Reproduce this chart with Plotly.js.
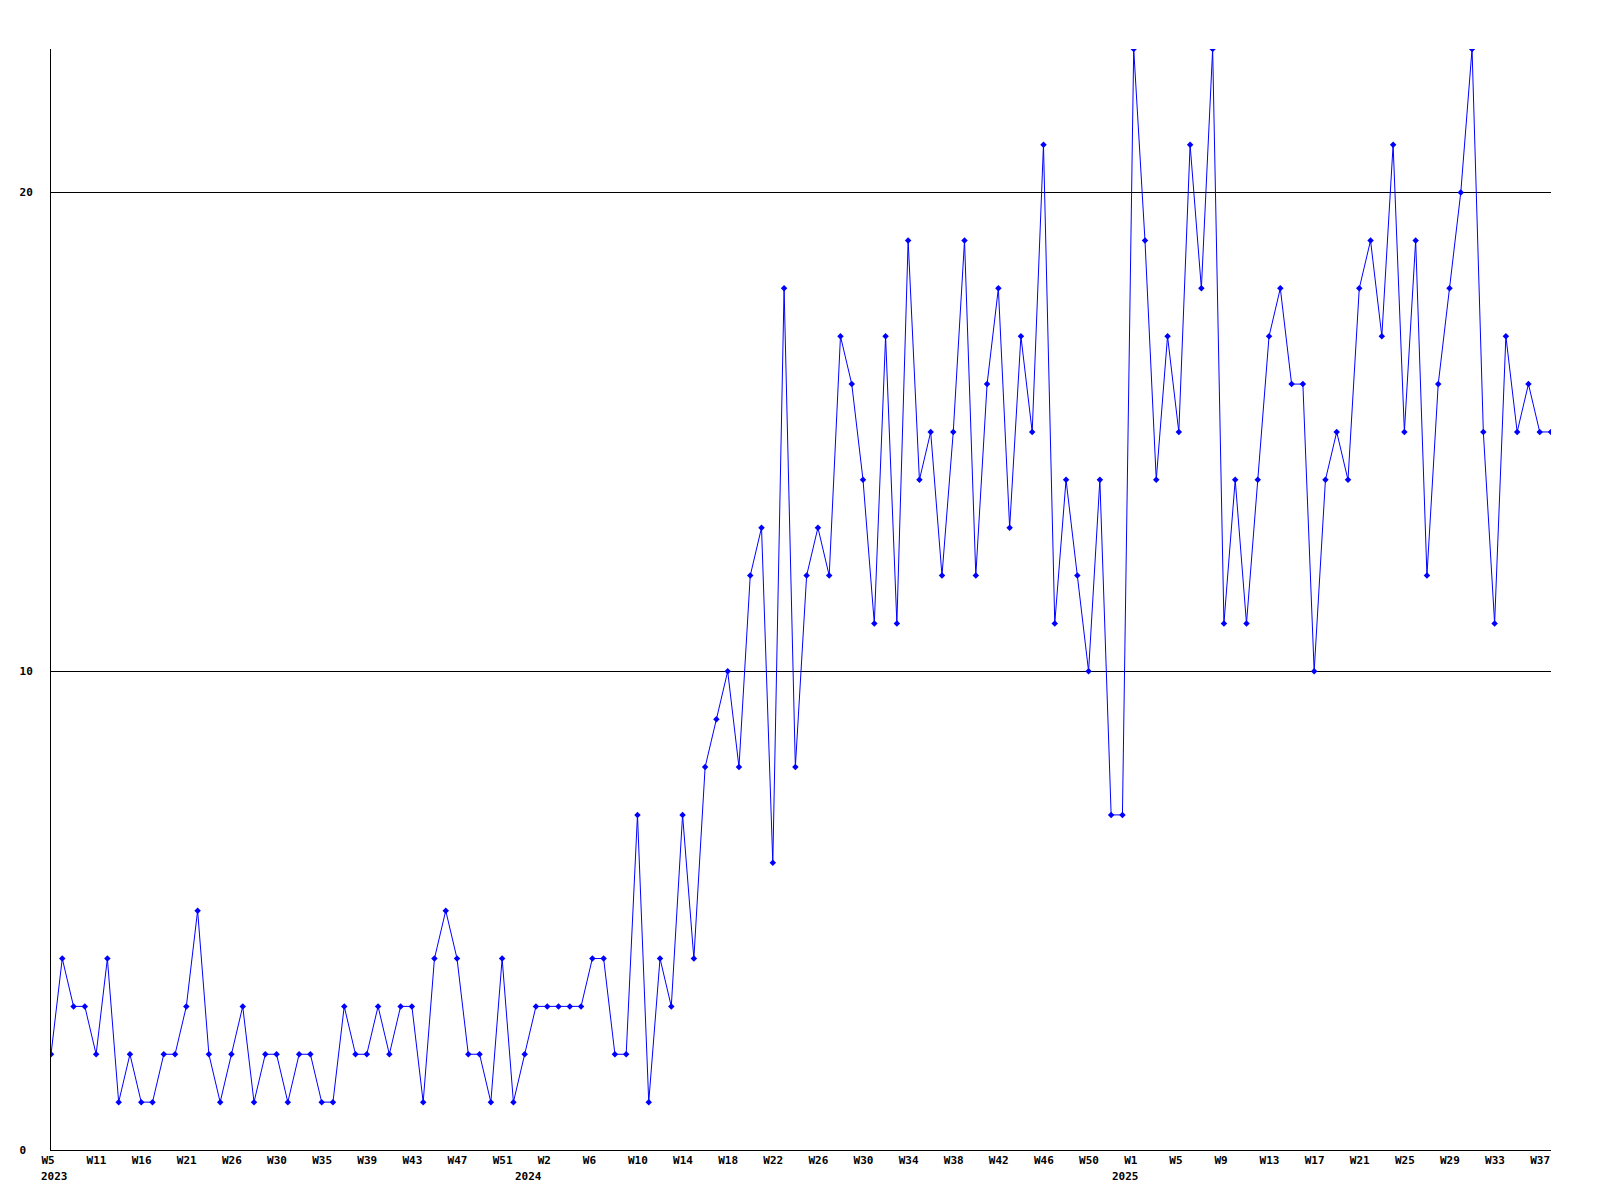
<!DOCTYPE html>
<html>
<head>
<meta charset="utf-8">
<script src="https://cdn.plot.ly/plotly-3.0.1.min.js"></script>
<style>html,body{margin:0;padding:0;background:#fff;}#chart{width:1600px;height:1200px;}</style>
</head>
<body>
<div id="chart"></div>
<script>
// weekly counts, one value per point (left to right)
const values = [
  2,4,3,3,2,4,1,2,1,1,
  2,2,3,5,2,1,2,3,1,2,
  2,1,2,2,1,1,3,2,2,3,
  2,3,3,1,4,5,4,2,2,1,
  4,1,2,3,3,3,3,3,4,4,
  2,2,7,1,4,3,7,4,8,9,
  10,8,12,13,6,18,8,12,13,12,
  17,16,14,11,17,11,19,14,15,12,
  15,19,12,16,18,13,17,15,21,11,
  14,12,10,14,7,7,23,19,14,17,
  15,21,18,23,11,14,11,14,17,18,
  16,16,10,14,15,14,18,19,17,21,
  15,19,12,16,18,20,23,15,11,17,
  15,16,15,15
];
// week tick labels, one every 4 points
const weekLabels = ['W5','W11','W16','W21','W26','W30','W35','W39','W43','W47','W51',
  'W2','W6','W10','W14','W18','W22','W26','W30','W34','W38','W42','W46','W50',
  'W1','W5','W9','W13','W17','W21','W25','W29','W33','W37'];
const weekStep = 4;
// year labels and the point index where each year label starts
const yearLabels = ['2023','2024','2025'];
const yearPoints = [0,42,95];
// y tick labels
const yTickVals = [0,10,20];
const yTickText = ['0','10','20'];
const yMax = 23;

const xs = values.map((_, i) => i);
const font = {family: 'DejaVu Sans Mono, Liberation Mono, monospace', size: 11, color: '#000', weight: 'bold'};

const trace = {
  x: xs, y: values, type: 'scatter', mode: 'lines+markers',
  line: {color: '#0000ff', width: 1},
  marker: {color: '#0000ff', symbol: 'diamond', size: 5},
  hoverinfo: 'skip'
};

const annotations = yearLabels.map((t, k) => ({
  text: t, x: yearPoints[k], xref: 'x', y: 0, yref: 'paper',
  xanchor: 'left', yanchor: 'top', xshift: -12, yshift: -18,
  showarrow: false, font: font
}));

const layout = {
  width: 1600, height: 1200,
  margin: {l: 51, r: 49, t: 49, b: 50, pad: 0},
  paper_bgcolor: '#fff', plot_bgcolor: '#fff',
  showlegend: false,
  font: font,
  xaxis: {
    range: [0, values.length - 1], showgrid: false, zeroline: false,
    showline: true, linecolor: '#000', linewidth: 1,
    tickmode: 'array',
    tickvals: weekLabels.map((_, i) => i * weekStep),
    ticktext: weekLabels,
    ticks: '', ticklabelposition: 'outside right', ticklabelshift: -10,
    ticklabelstandoff: 0, ticklabeloverflow: 'allow',
    tickfont: font, fixedrange: true
  },
  yaxis: {
    range: [0, yMax], showgrid: true, gridcolor: '#000', gridwidth: 1,
    zeroline: false, showline: true, linecolor: '#000', linewidth: 1,
    tickmode: 'array', tickvals: yTickVals,
    ticktext: yTickText.map(t => t.padEnd(2, '\u00a0')),
    ticks: '', ticklabelstandoff: 15, tickfont: font, fixedrange: true
  },
  annotations: annotations,
  hovermode: false
};

Plotly.newPlot('chart', [trace], layout, {displayModeBar: false, staticPlot: true});
</script>
</body>
</html>
